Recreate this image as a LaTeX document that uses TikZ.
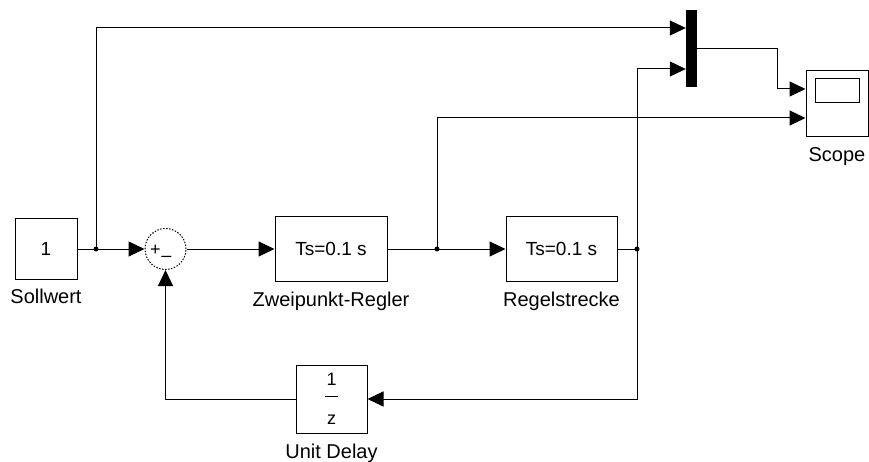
\documentclass[tikz,border=0pt]{standalone}
\usepackage{fontspec}
\setmainfont{Liberation Sans}
\usetikzlibrary{positioning, arrows.meta, calc}

\begin{document}
\begin{tikzpicture}[
  x=1pt, y=-1pt,
  block/.style={draw, line width=1pt, inner sep=0pt, font=\fontsize{19}{22}\selectfont},
  blockname/.style={inner sep=0pt, font=\fontsize{20}{24}\selectfont},
  sign/.style={inner sep=0pt, font=\fontsize{18}{20}\selectfont},
  wire/.style={line width=1pt},
  sig/.style={line width=1pt, -{Triangle[length=16pt, width=15pt]}},
  dot/.style={circle, fill, inner sep=0pt, minimum size=5pt},
]
  \useasboundingbox (0,0) rectangle (869,462);

  % Blocks
  \node[block, minimum width=62pt, minimum height=61pt] (sollwert) at (46,249) {1};
  \node[block, circle, dash pattern=on 1.5pt off 1.5pt, minimum size=41pt] (sum) at (165.5,249) {};
  \node[sign] (plus) at (155.5,250.5) {+};
  \node[sign] (minus) at (166.5,259) {–};
  \node[block, minimum width=112pt, minimum height=64pt] (regler) at (331,249) {Ts=0.1 s};
  \node[block, minimum width=111pt, minimum height=64pt] (strecke) at (561.5,249) {Ts=0.1 s};
  \node[block, minimum width=71pt, minimum height=68pt, align=center,
        font=\fontsize{18}{21}\selectfont] (delay) at (331.5,399)
        {1\\[-10pt]\rule{13pt}{1pt}\\[7pt]z};
  \node[fill, inner sep=0pt, minimum width=11pt, minimum height=77pt] (mux) at (691.5,48.5) {};
  \node[block, minimum width=62pt, minimum height=66pt] (scope) at (837,104) {};
  \node[draw, line width=1pt, minimum width=44pt, minimum height=24pt, inner sep=0pt,
        anchor=north] (screen) at ([yshift=-8pt]scope.north) {};

  % Block names
  \node[blockname, below=9pt of sollwert] (sollwertname) {Sollwert};
  \node[blockname, below=10pt of regler] (reglername) {Zweipunkt-Regler};
  \node[blockname, below=10pt of strecke] (streckename) {Regelstrecke};
  \node[blockname, below=10pt of delay] (delayname) {Unit Delay};
  \node[blockname, below=10pt of scope] (scopename) {Scope};

  % Branch points
  \coordinate (j1) at (96,249);
  \coordinate (j2) at (437,249);
  \coordinate (j3) at (637,249);

  % Signals
  \draw[sig] (sollwert.east) -- (sum.west);
  \draw[sig] (j1) |- ([yshift=20.5pt]mux.west);
  \draw[sig] (sum.east) -- (regler.west);
  \draw[sig] (regler.east) -- (strecke.west);
  \draw[sig] (j2) |- ([yshift=-14pt]scope.west);
  \draw[wire] (strecke.east) -- (j3);
  \draw[sig] (j3) |- ([yshift=-20.5pt]mux.west);
  \draw[sig] (j3) |- (delay.east);
  \draw[sig] (delay.west) -| (sum.south);
  \draw[sig] (mux.east) -- ++(80,0) |- ([yshift=15pt]scope.west);

  \node[dot] at (j1) {};
  \node[dot] at (j2) {};
  \node[dot] at (j3) {};
\end{tikzpicture}
\end{document}
